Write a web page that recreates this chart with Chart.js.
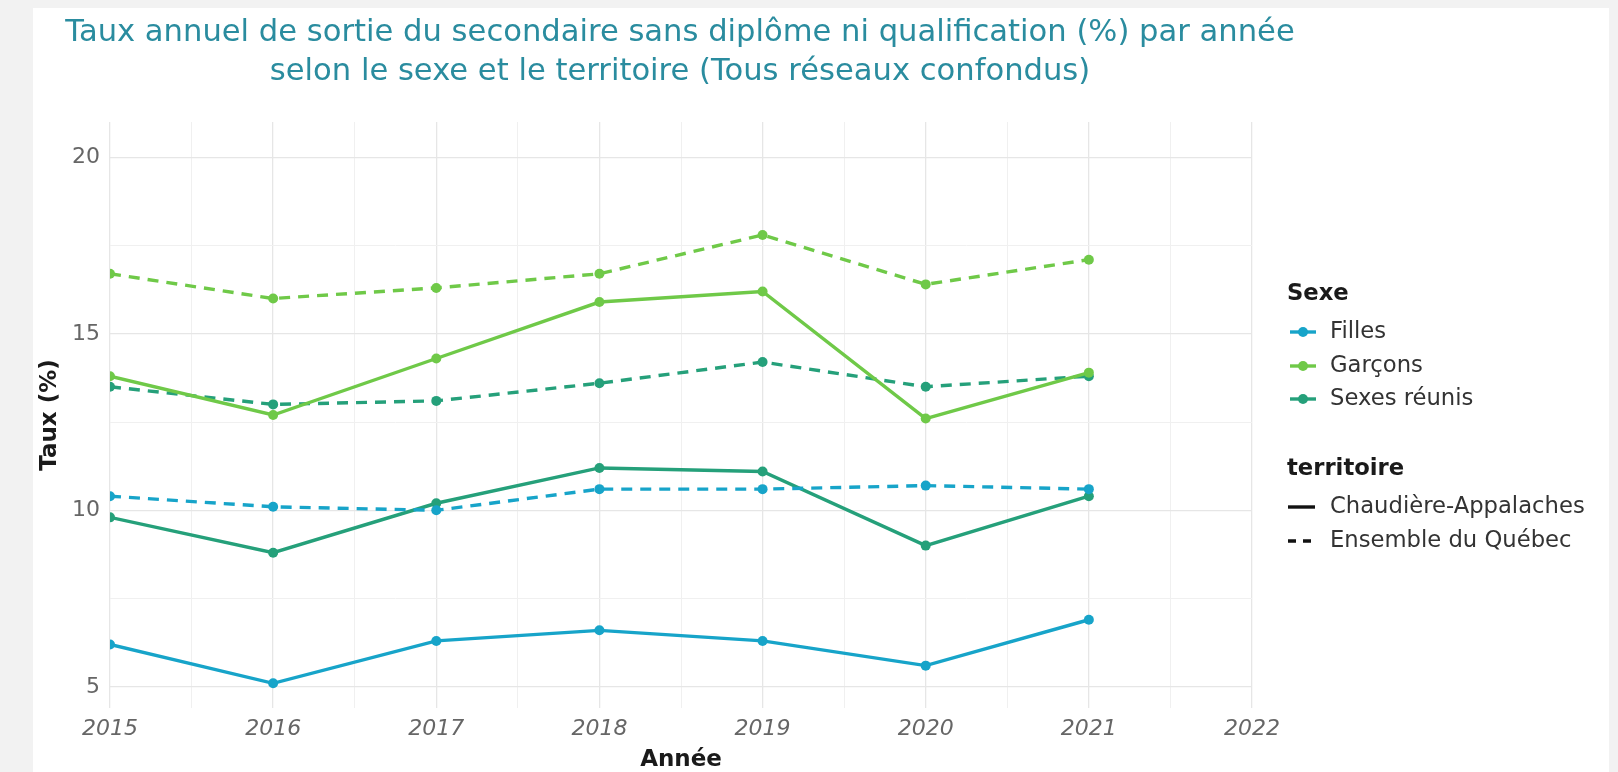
<!DOCTYPE html>
<html>
<head>
<meta charset="utf-8">
<script src="https://cdn.jsdelivr.net/npm/chart.js@4/dist/chart.umd.min.js"></script>
<style>
  html, body { margin: 0; padding: 0; background: #f2f2f2; }
  #card { position: absolute; left: 33px; top: 8px; width: 1576px; height: 764px; background: #fff; }
  #wrap { position: absolute; left: 0; top: 0; width: 1618px; height: 772px; }
</style>
</head>
<body>
<div id="card"></div>
<div id="wrap"><canvas id="chart"></canvas></div>
<script>
// data
var years = [2015, 2016, 2017, 2018, 2019, 2020, 2021];
var xTicks = [2015, 2016, 2017, 2018, 2019, 2020, 2021, 2022];
var yTicks = [5, 10, 15, 20];

var fillesCA  = [6.2, 5.1, 6.3, 6.6, 6.3, 5.6, 6.9];
var fillesQC  = [10.4, 10.1, 10.0, 10.6, 10.6, 10.7, 10.6];
var garconsCA = [13.8, 12.7, 14.3, 15.9, 16.2, 12.6, 13.9];
var garconsQC = [16.7, 16.0, 16.3, 16.7, 17.8, 16.4, 17.1];
var reunisCA  = [9.8, 8.8, 10.2, 11.2, 11.1, 9.0, 10.4];
var reunisQC  = [13.5, 13.0, 13.1, 13.6, 14.2, 13.5, 13.8];

var sexes = ['Filles', 'Garçons', 'Sexes réunis'];
var territoires = ['Chaudière-Appalaches', 'Ensemble du Québec'];
var colors = ['#17a4c9', '#6fc948', '#25a07a'];

var FONT = '"DejaVu Sans", sans-serif';

function pts(vals) {
    return vals.map(function(v, i) { return { x: years[i], y: v }; });
}
function withMinor(major) {
    var out = [];
    for (var i = 0; i < major.length; i++) {
        out.push(major[i]);
        if (i < major.length - 1) out.push((major[i] + major[i + 1]) / 2);
    }
    return out;
}

function ds(label, vals, color, dashed) {
    return {
        label: label,
        data: pts(vals),
        borderColor: color,
        backgroundColor: color,
        borderWidth: 3.4,
        borderDash: dashed ? [11, 8] : [],
        pointRadius: 5,
        pointBorderWidth: 0,
        pointBackgroundColor: color,
        tension: 0,
        clip: 0
    };
}

var datasets = [
    ds('Garçons CA', garconsCA, colors[1], false),
    ds('Filles QC', fillesQC, colors[0], true),
    ds('Sexes CA', reunisCA, colors[2], false),
    ds('Garçons QC', garconsQC, colors[1], true),
    ds('Sexes QC', reunisQC, colors[2], true),
    ds('Filles CA', fillesCA, colors[0], false)
];

var decor = {
    id: 'decor',
    afterDraw: function(chart) {
        var c = chart.ctx, a = chart.chartArea;
        c.save();
        // title
        c.fillStyle = '#2a8c9f';
        c.font = '30.6px ' + FONT;
        c.textAlign = 'center';
        c.textBaseline = 'middle';
        c.fillText('Taux annuel de sortie du secondaire sans diplôme ni qualification (%) par année', 680, 33);
        c.fillText('selon le sexe et le territoire (Tous réseaux confondus)', 680, 72);

        // axis titles
        c.fillStyle = '#1a1a1a';
        c.font = 'bold 23px ' + FONT;
        c.fillText('Année', (a.left + a.right) / 2, 760);
        c.save();
        c.translate(50, (a.top + a.bottom) / 2);
        c.rotate(-Math.PI / 2);
        c.fillText('Taux (%)', 0, 0);
        c.restore();

        // legend
        var lx = 1287, tx = 1330;
        c.textAlign = 'left';
        c.fillStyle = '#1a1a1a';
        c.font = 'bold 22.7px ' + FONT;
        c.fillText('Sexe', lx, 294);
        c.fillText('territoire', lx, 469);
        c.font = '22.7px ' + FONT;
        var ys = [332, 366, 399];
        sexes.forEach(function(s, i) {
            c.strokeStyle = colors[i];
            c.lineWidth = 3.4;
            c.setLineDash([]);
            c.beginPath();
            c.moveTo(lx + 3, ys[i]);
            c.lineTo(lx + 29, ys[i]);
            c.stroke();
            c.fillStyle = colors[i];
            c.beginPath();
            c.arc(lx + 16, ys[i], 5, 0, Math.PI * 2);
            c.fill();
            c.fillStyle = '#333';
            c.fillText(s, tx, ys[i]);
        });
        var ty = [507, 541];
        territoires.forEach(function(t, i) {
            c.strokeStyle = '#111';
            c.lineWidth = 3.4;
            c.setLineDash(i === 0 ? [] : [8, 7]);
            c.beginPath();
            c.moveTo(lx + 1, ty[i]);
            c.lineTo(lx + 28, ty[i]);
            c.stroke();
            c.fillStyle = '#333';
            c.fillText(t, tx, ty[i]);
        });
        c.restore();
    }
};

var ctx = document.getElementById('chart').getContext('2d');
var chart = new Chart(ctx, {
    type: 'line',
    data: { datasets: datasets },
    options: {
        responsive: true,
        maintainAspectRatio: false,
        animation: false,
        layout: { padding: { left: 40, right: 366, top: 122, bottom: 14 } },
        plugins: { legend: { display: false }, title: { display: false }, tooltip: { enabled: false } },
        scales: {
            x: {
                type: 'linear',
                min: 2015,
                max: 2022,
                afterBuildTicks: function(s) {
                    s.ticks = withMinor(xTicks).map(function(v) { return { value: v }; });
                },
                afterFit: function(s) { s.height = 50; },
                ticks: {
                    autoSkip: false,
                    maxRotation: 0,
                    padding: 8,
                    color: '#666',
                    font: { family: FONT, size: 22, style: 'italic' },
                    callback: function(v) { return xTicks.indexOf(v) >= 0 ? String(v) : ''; }
                },
                grid: {
                    drawTicks: false,
                    color: function(c) { return xTicks.indexOf(c.tick.value) >= 0 ? '#e6e6e6' : '#f0f0f0'; },
                    lineWidth: function(c) { return xTicks.indexOf(c.tick.value) >= 0 ? 1.3 : 1; }
                },
                border: { display: false }
            },
            y: {
                min: 4.4,
                max: 21,
                afterBuildTicks: function(s) {
                    s.ticks = withMinor(yTicks).map(function(v) { return { value: v }; });
                },
                afterFit: function(s) { s.width = 70; },
                ticks: {
                    autoSkip: false,
                    padding: 10,
                    color: '#666',
                    font: { family: FONT, size: 22 },
                    callback: function(v) { return yTicks.indexOf(v) >= 0 ? String(v) : ''; }
                },
                grid: {
                    drawTicks: false,
                    color: function(c) { return yTicks.indexOf(c.tick.value) >= 0 ? '#e6e6e6' : '#f0f0f0'; },
                    lineWidth: function(c) { return yTicks.indexOf(c.tick.value) >= 0 ? 1.3 : 1; }
                },
                border: { display: false }
            }
        }
    },
    plugins: [decor]
});
</script>
</body>
</html>
